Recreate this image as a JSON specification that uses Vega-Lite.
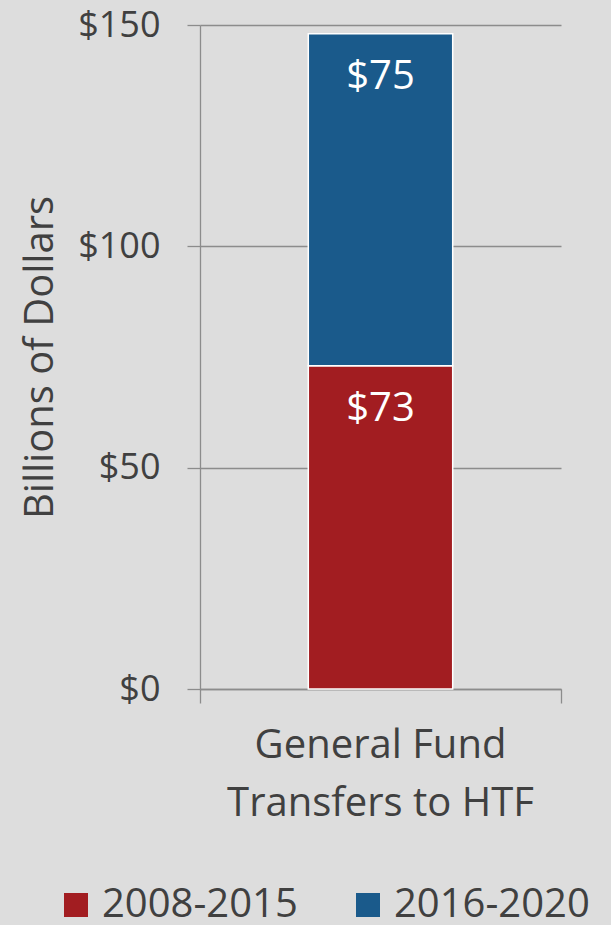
{
  "$schema": "https://vega.github.io/schema/vega-lite/v6.json",
  "autosize": "none",
  "width": 361,
  "height": 664,
  "padding": {"left": 200, "top": 25, "right": 50, "bottom": 236},
  "background": "#dddddd",
  "config": {
    "view": {"stroke": null},
    "font": "Open Sans",
    "axis": {"labelColor": "#404040", "titleColor": "#404040", "domainColor": "#8c8c8c", "tickColor": "#8c8c8c", "gridColor": "#8c8c8c", "domainWidth": 1.3, "tickWidth": 1.3, "gridWidth": 1.3}
  },
  "data": {
    "values": [
      {"category": "General Fund|Transfers to HTF", "period": "2008-2015", "value": 73},
      {"category": "General Fund|Transfers to HTF", "period": "2016-2020", "value": 75}
    ]
  },
  "layer": [
    {
      "mark": {"type": "bar", "width": {"band": 0.4}, "stroke": "white", "strokeWidth": 1.5},
      "encoding": {
        "x": {
          "field": "category", "type": "nominal",
          "scale": {"paddingInner": 0, "paddingOuter": 0},
          "axis": {
            "title": null, "orient": "bottom", "bandPosition": 0, "grid": false,
            "tickSize": 14, "labelAngle": 0, "labelFontSize": 40, "labelDx": 180.5,
            "labelAlign": "center", "labelBaseline": "top", "labelPadding": 22,
            "labelLineHeight": 58, "labelExpr": "split(datum.label, '|')", "labelLimit": 0
          }
        },
        "y": {
          "field": "value", "type": "quantitative", "stack": "zero",
          "scale": {"domain": [0, 150], "nice": false},
          "axis": {
            "values": [0, 50, 100, 150], "labelExpr": "'$' + datum.value",
            "labelFontSize": 36, "tickSize": 13, "labelPadding": 27,
            "title": "Billions of Dollars", "titleFontSize": 40, "titleFontWeight": "normal",
            "titleX": -160, "titleY": 332, "titleAngle": -90, "titleAlign": "center", "titleBaseline": "middle"
          }
        },
        "color": {
          "field": "period", "type": "nominal",
          "scale": {"domain": ["2008-2015", "2016-2020"], "range": ["#A21D21", "#1A5A8B"]},
          "legend": {
            "title": null, "orient": "none", "direction": "horizontal",
            "legendX": -144, "legendY": 860, "padding": 0,
            "symbolType": "square", "symbolSize": 576, "symbolStrokeWidth": 0,
            "labelFontSize": 40, "labelColor": "#404040", "labelOffset": 6, "columnPadding": 50, "labelLimit": 0
          }
        },
        "order": {"field": "period", "type": "nominal"}
      }
    },
    {
      "mark": {"type": "text", "color": "white", "fontSize": 40, "dy": 43, "baseline": "middle", "align": "center"},
      "encoding": {
        "x": {
          "field": "category", "type": "nominal",
          "axis": {"title": null, "orient": "bottom", "bandPosition": 1, "labels": false, "domain": false, "grid": false, "tickSize": 14}
        },
        "y": {"field": "value", "type": "quantitative", "stack": "zero"},
        "detail": {"field": "period", "type": "nominal"},
        "order": {"field": "period", "type": "nominal"},
        "text": {"field": "value", "type": "quantitative", "format": "$d"}
      }
    }
  ],
  "resolve": {"axis": {"x": "independent"}}
}
